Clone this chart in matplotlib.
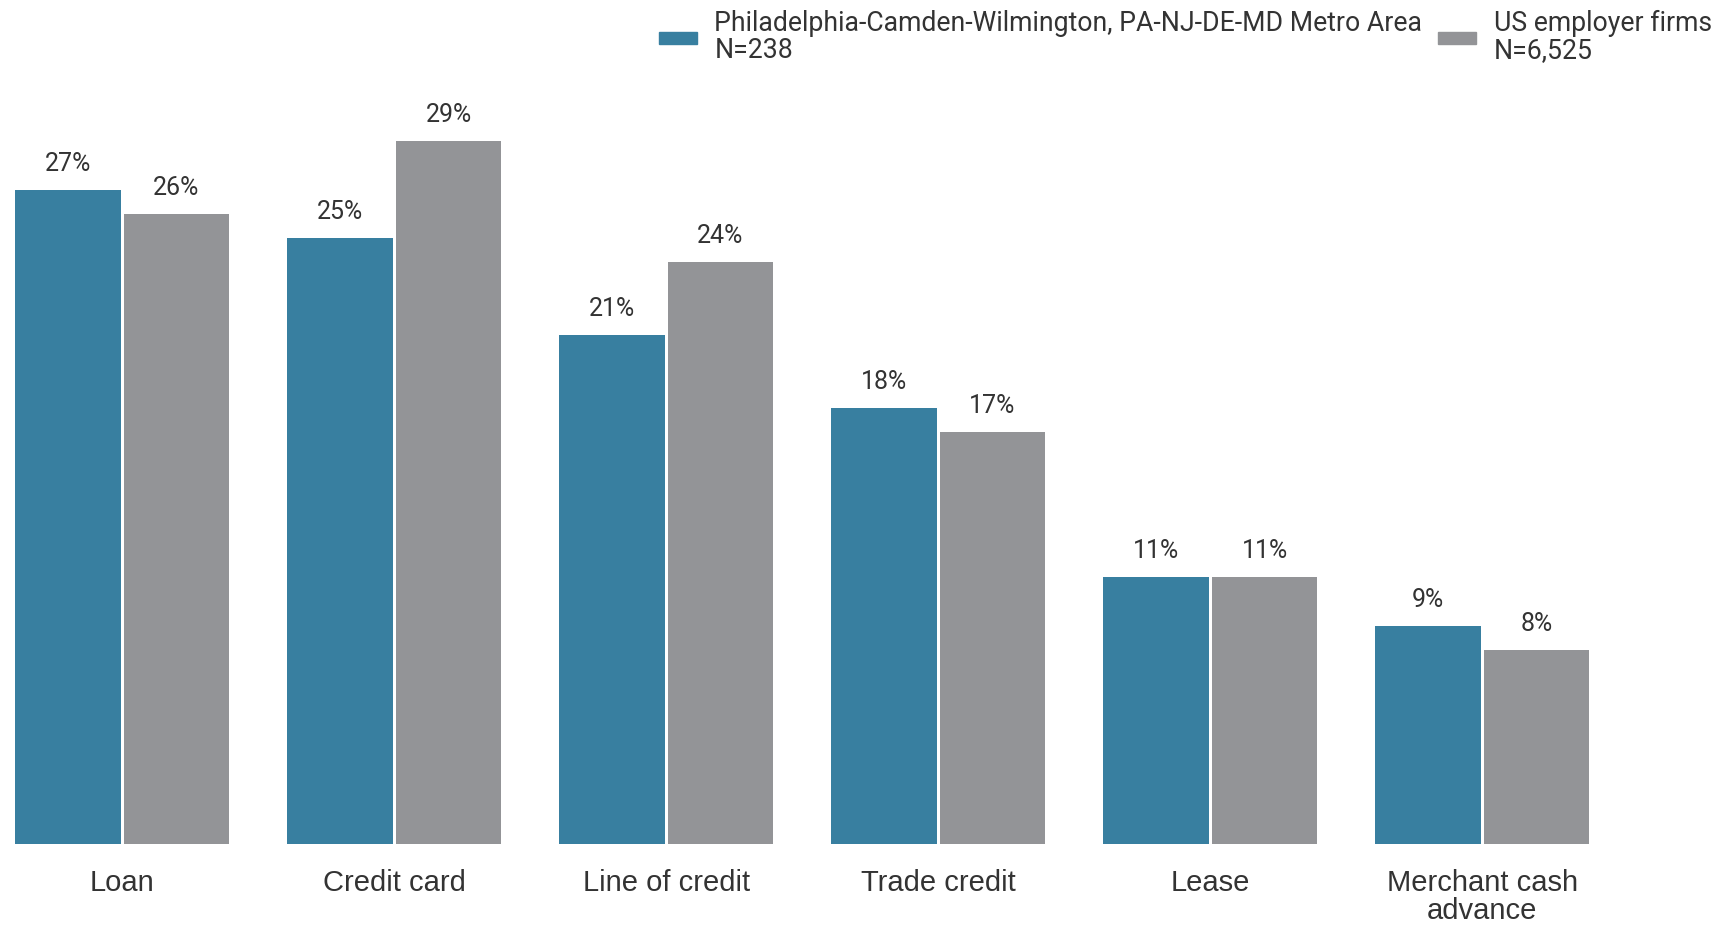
import matplotlib
matplotlib.use("Agg")
import matplotlib.pyplot as plt
import numpy as np
from matplotlib.patches import Patch

categories = ["Loan", "Credit card", "Line of credit", "Trade credit", "Lease",
              "Merchant cash\nadvance"]
metro = [27, 25, 21, 18, 11, 9]
us_firms = [26, 29, 24, 17, 11, 8]
series_names = ["Philadelphia-Camden-Wilmington, PA-NJ-DE-MD Metro Area\nN=238",
                "US employer firms\nN=6,525"]

blue = "#387fa0"
gray = "#939497"
txt = "#333333"

fig = plt.figure(figsize=(17.27, 9.25), dpi=100)
ax = fig.add_axes([0, 81 / 925, 1, 844 / 925])

x = np.arange(len(categories))
w = 0.388
off = 0.2
b1 = ax.bar(x - off, metro, w, color=blue, linewidth=0)
b2 = ax.bar(x + off, us_firms, w, color=gray, linewidth=0)

for bars, vals in ((b1, metro), (b2, us_firms)):
    for b, v in zip(bars, vals):
        ax.annotate(f"{v}%", (b.get_x() + b.get_width() / 2, v),
                    xytext=(0, 10), textcoords="offset points",
                    ha="center", va="bottom", fontsize=18,
                    family="Roboto", color=txt)

ax.set_xlim(-0.449, 5.90)
ax.set_ylim(0, 34.82)
ax.set_xticks(x)
ax.set_xticklabels(categories, fontsize=21, family="Liberation Sans",
                   color=txt, linespacing=1.0)
ax.tick_params(axis="x", length=0, pad=18)
ax.set_yticks([])
for s in ax.spines.values():
    s.set_visible(False)

handles = [Patch(color=blue), Patch(color=gray)]
leg = fig.legend(handles, series_names, loc="upper right", ncol=2,
                 bbox_to_anchor=(1.005, 1.015), frameon=False,
                 prop={"family": "Roboto", "size": 19.2}, labelcolor=txt,
                 handlelength=1.42, handleheight=0.3, handletextpad=0.65,
                 columnspacing=0.6)
for t in leg.get_texts():
    t.set_linespacing(1.0)

fig.savefig("out.png", dpi=100)
